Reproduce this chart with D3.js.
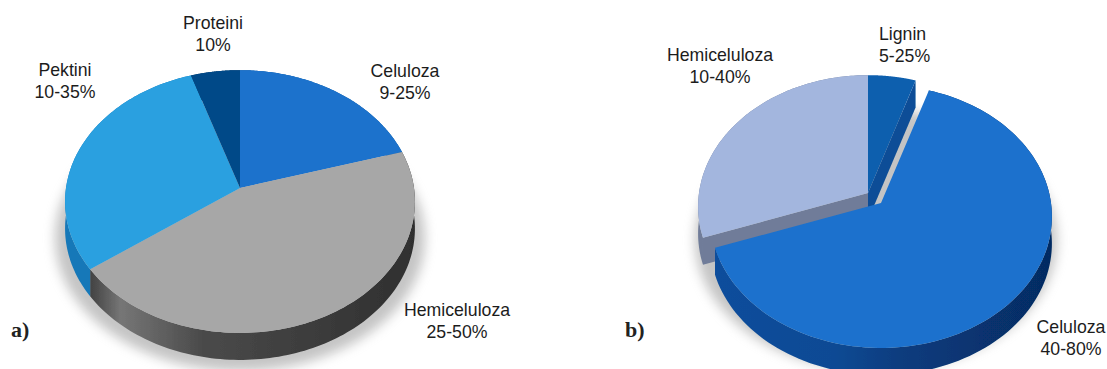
<!DOCTYPE html>
<html lang="hr">
<head>
<meta charset="utf-8">
<script src="https://cdn.jsdelivr.net/npm/d3@7/dist/d3.min.js"></script>
<style>
  html, body { margin: 0; padding: 0; background: #fff; }
  svg { display: block; }
  text { font-family: "Liberation Sans", Arial, sans-serif; font-size: 17.7px; fill: #1c1c1c; text-anchor: middle; }
  text.tag { font-family: "Liberation Serif", serif; font-weight: 700; font-size: 22px; text-anchor: start; fill: #222; }
</style>
</head>
<body>
<svg id="chart" width="1107" height="369"></svg>
<script>
// Composition of primary and secondary plant cell walls (slice shares in percent)
const wallACategories = ["Celuloza", "Hemiceluloza", "Pektini", "Proteini"];
const wallAShares = [20.4, 44.6, 30, 5];
const wallARanges = ["9-25%", "25-50%", "10-35%", "10%"];

const wallBCategories = ["Lignin", "Celuloza", "Hemiceluloza"];
const wallBShares = [5, 64.6, 30.4];
const wallBRanges = ["5-25%", "40-80%", "10-40%"];

const svg = d3.select("#chart");
const defs = svg.append("defs");
defs.append("filter").attr("id", "soft").attr("x", "-20%").attr("y", "-20%").attr("width", "140%").attr("height", "140%")
  .append("feGaussianBlur").attr("stdDeviation", 6);
defs.append("filter").attr("id", "edge")
  .append("feGaussianBlur").attr("stdDeviation", 0.45);

function sideGradient(id, x1, x2, stops) {
  const g = defs.append("linearGradient").attr("id", id).attr("gradientUnits", "userSpaceOnUse")
    .attr("x1", x1).attr("x2", x2).attr("y1", 0).attr("y2", 0);
  stops.forEach(([o, c]) => g.append("stop").attr("offset", o).attr("stop-color", c));
}
sideGradient("sideGrey", 88, 416, [[0, "#3e3e3e"], [0.1, "#767676"], [0.35, "#4a4a4a"], [1, "#2f2f2f"]]);
sideGradient("sideBlue", 717, 1052, [[0, "#0b4d9c"], [0.35, "#0a4a94"], [0.55, "#083c7e"], [1, "#062b62"]]);

// Tilted disc: a circle seen in perspective, so the centre sits above the ellipse middle
const disc = { ry: 130, k: 0.103, depth: 27 };
function rimPoint(o, a) {
  const w = 1 + disc.k * Math.cos(a);
  return [o.x + o.rx * Math.sin(a) / w, o.y - disc.ry * Math.cos(a) / w];
}
const line = d3.line();
const rimArc = (o, a0, a1) => d3.range(0, 121).map(i => rimPoint(o, a0 + (a1 - a0) * i / 120));
const topPath = (o, s) => line([[o.x, o.y], ...rimArc(o, s.startAngle, s.endAngle)]) + "Z";
const bandPath = (o, s) => {
  const rim = rimArc(o, s.startAngle, s.endAngle);
  return line([...rim, ...rim.slice().reverse().map(([x, y]) => [x, y + disc.depth])]) + "Z";
};
const sharePie = d3.pie().sort(null);
const colour = (names, values) => d3.scaleOrdinal().domain(names).range(values);

function shadow(cx, cy, rx, ry) {
  svg.append("ellipse").attr("cx", cx).attr("cy", cy).attr("rx", rx).attr("ry", ry)
    .attr("fill", "#8a8a8a").attr("opacity", 0.5).attr("filter", "url(#soft)");
}
function label(x, y, lines, anchor = "middle") {
  lines.forEach((t, i) => svg.append("text").attr("x", x).attr("y", y + i * 21.5)
    .style("text-anchor", anchor).text(t));
}

// Panel a: one closed disc
{
  const o = { x: 240, y: 188, rx: 174 };
  const slices = sharePie(wallAShares);
  const top = colour(wallACategories, ["#1b72cc", "#a7a7a7", "#29a0e0", "#064a88"]);
  const side = colour(wallACategories, ["#145a9f", "url(#sideGrey)", "#1578b8", "#043766"]);
  shadow(240, 238, 185, 133);
  const g = svg.append("g").attr("filter", "url(#edge)");
  g.selectAll("path.side").data(slices).join("path").attr("class", "side")
    .attr("d", d => bandPath(o, d)).attr("fill", (d, i) => side(wallACategories[i]));
  g.selectAll("path.top").data(slices).join("path").attr("class", "top")
    .attr("d", d => topPath(o, d)).attr("fill", (d, i) => top(wallACategories[i]));
}

// Panel b: the cellulose slice is pulled out towards the viewer
{
  const oBack = { x: 868, y: 193, rx: 169 };
  const oFront = { x: 881, y: 203, rx: 170 };
  const [lig, cel, hemi] = sharePie(wallBShares);
  const top = colour(wallBCategories, ["#0f5fae", "#1b71cd", "#a3b6de"]);
  shadow(876, 240, 181, 131);
  const g = svg.append("g").attr("filter", "url(#edge)");

  const cutFace = (angle, fill) => {
    const rim = rimPoint(oBack, angle);
    g.append("path").attr("fill", fill).attr("d", line([
      [oBack.x, oBack.y], rim, [rim[0], rim[1] + disc.depth], [oBack.x, oBack.y + disc.depth]
    ]) + "Z");
  };
  g.append("path").attr("d", bandPath(oBack, hemi)).attr("fill", "#6f7c99");
  cutFace(hemi.startAngle, "#6f7c99");
  cutFace(lig.endAngle, "#0c4e97");
  g.append("path").attr("d", topPath(oBack, hemi)).attr("fill", top("Hemiceluloza"));
  g.append("path").attr("d", topPath(oBack, lig)).attr("fill", top("Lignin"));
  g.append("path").attr("d", bandPath(oFront, cel)).attr("fill", "url(#sideBlue)");
  g.append("path").attr("d", topPath(oFront, cel)).attr("fill", top("Celuloza"));
}

// Category names with their share ranges
label(405, 77, [wallACategories[0], wallARanges[0]]);
label(457, 316, [wallACategories[1], wallARanges[1]]);
label(65, 76, [wallACategories[2], wallARanges[2]]);
label(213, 29, [wallACategories[3], wallARanges[3]]);
label(1071, 333, [wallBCategories[1], wallBRanges[1]]);
label(720, 61, [wallBCategories[2], wallBRanges[2]]);
label(879, 40, [wallBCategories[0], wallBRanges[0]], "start");

svg.append("text").attr("class", "tag").attr("x", 11).attr("y", 337).text("a)");
svg.append("text").attr("class", "tag").attr("x", 625).attr("y", 337).text("b)");
</script>
</body>
</html>
